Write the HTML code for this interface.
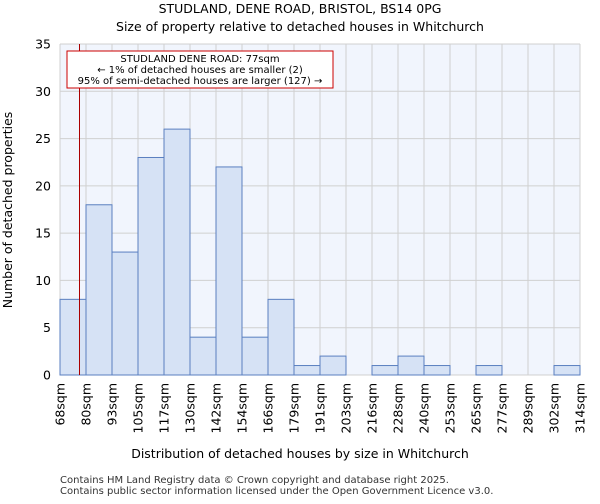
<!DOCTYPE html>
<html><head><meta charset="utf-8"><style>
body{margin:0;background:#fff;font-family:"DejaVu Sans","Liberation Sans",sans-serif;}
</style></head><body>
<svg width="600" height="500" xmlns="http://www.w3.org/2000/svg" font-family="DejaVu Sans, Liberation Sans, sans-serif">
<text x="300" y="13" text-anchor="middle" font-size="12.5">STUDLAND, DENE ROAD, BRISTOL, BS14 0PG</text>
<text x="300" y="31" text-anchor="middle" font-size="12.5">Size of property relative to detached houses in Whitchurch</text>
<rect x="60" y="44" width="520" height="331" fill="#f1f5fd"/>
<g id="grid"></g>
<g id="bars"></g>
<g id="axes"></g>
<line id="marker" stroke="#aa0000" stroke-width="1"/>
<g>
<rect x="67" y="51" width="266" height="37" fill="#fff" stroke="#cc0000" stroke-width="1"/>
<text x="200" y="62" text-anchor="middle" font-size="10">STUDLAND DENE ROAD: 77sqm</text>
<text x="200" y="73" text-anchor="middle" font-size="10">← 1% of detached houses are smaller (2)</text>
<text x="200" y="84" text-anchor="middle" font-size="10">95% of semi-detached houses are larger (127) →</text>
</g>
<text x="300" y="458" text-anchor="middle" font-size="12.5">Distribution of detached houses by size in Whitchurch</text>
<text transform="translate(12,210) rotate(-90)" text-anchor="middle" font-size="12.5">Number of detached properties</text>
<text x="60" y="483" font-size="10" fill="#333">Contains HM Land Registry data © Crown copyright and database right 2025.</text>
<text x="60" y="494" font-size="10" fill="#333">Contains public sector information licensed under the Open Government Licence v3.0.</text>
</svg>
<script>
const categories=["68sqm","80sqm","93sqm","105sqm","117sqm","130sqm","142sqm","154sqm","166sqm","179sqm","191sqm","203sqm","216sqm","228sqm","240sqm","253sqm","265sqm","277sqm","289sqm","302sqm","314sqm"];
const counts=[8,18,13,23,26,4,22,4,8,1,2,0,1,2,1,0,1,0,0,1];
const yTicks=[0,5,10,15,20,25,30,35];
const edges=[68,80,93,105,117,130,142,154,166,179,191,203,216,228,240,253,265,277,289,302,314];
const propertySize=77;
const NS="http://www.w3.org/2000/svg";
const X0=60,X1=580,Y0=375,Y1=44,YMAX=35;
const bw=(X1-X0)/counts.length;
const xs=i=>X0+i*bw;
const ys=v=>Y0-(v/YMAX)*(Y0-Y1);
function mk(t,a,p){const e=document.createElementNS(NS,t);for(const k in a)e.setAttribute(k,a[k]);p.appendChild(e);return e;}
const grid=document.getElementById('grid'),bars=document.getElementById('bars'),axes=document.getElementById('axes');
yTicks.forEach(v=>{
 const l=mk('line',{x1:X0,x2:X1,y1:ys(v),y2:ys(v),stroke:'#d0d0d0','stroke-width':1},grid);
 
 
 const t=mk('text',{x:X0-9,y:ys(v)+4.5,'text-anchor':'end','font-size':12.5},axes);
 t.textContent=v;
 
 
});
categories.forEach((c,i)=>{
 const x=xs(i);
 const l=mk('line',{x1:x,x2:x,y1:Y1,y2:Y0,stroke:'#d0d0d0','stroke-width':1},grid);
 
 
 const t=mk('text',{transform:`translate(${x+4.5},${Y0+8}) rotate(-90)`,'text-anchor':'end','font-size':12.5},axes);
 t.textContent=c;
 
 
});
counts.forEach((v,i)=>{
 if(v<=0)return;
 const r=mk('rect',{x:xs(i),y:ys(v),width:bw,height:Y0-ys(v),fill:'#d6e2f5',stroke:'#5a7fc0','stroke-width':1},bars);
 
 
});
let k=0;while(k<edges.length-2&&propertySize>edges[k+1])k++;
const mx=xs(k)+(propertySize-edges[k])/(edges[k+1]-edges[k])*bw;
const m=document.getElementById('marker');
m.setAttribute('x1',mx);m.setAttribute('x2',mx);m.setAttribute('y1',Y1);m.setAttribute('y2',Y0);
</script>
</body></html>
